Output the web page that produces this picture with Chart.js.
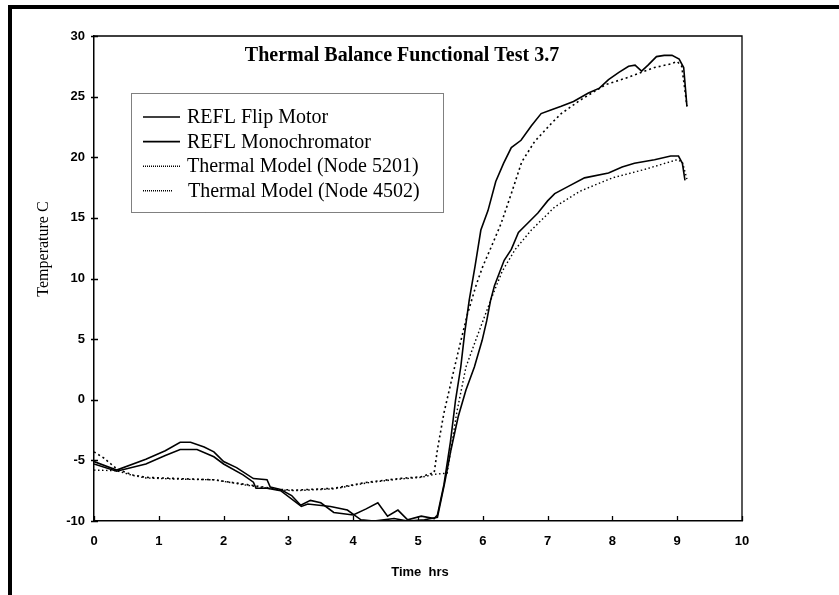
<!DOCTYPE html>
<html>
<head>
<meta charset="utf-8">
<title>Thermal Balance Functional Test 3.7</title>
<script src="https://cdn.jsdelivr.net/npm/chart.js@4/dist/chart.umd.min.js"></script>
<style>
  html, body { margin: 0; padding: 0; background: #fff; }
  #wrap { position: relative; width: 839px; height: 595px; overflow: hidden; }
  #frame { position: absolute; left: 8px; top: 5px; width: 840px; height: 600px;
           border-top: 4px solid #000; border-left: 4px solid #000; }
  #chart { position: absolute; left: 0; top: 0; }
</style>
</head>
<body>
<div id="wrap">
  <div id="frame"></div>
  <canvas id="chart" width="839" height="595"></canvas>
</div>
<script>
// values (time in hours, temperature in C)
const flipHrs = [0, 0.35, 0.8, 1.1, 1.33, 1.49, 1.7, 1.85, 2.0, 2.2, 2.46, 2.67, 2.72, 2.88, 3.05, 3.19, 3.34, 3.5, 3.7, 4.0, 4.2, 4.38, 4.53, 4.69, 4.84, 5.05, 5.25, 5.3, 5.4, 5.5, 5.58, 5.66, 5.72, 5.79, 5.88, 5.97, 6.08, 6.2, 6.32, 6.44, 6.59, 6.75, 6.9, 7.05, 7.21, 7.4, 7.63, 7.8, 7.94, 8.1, 8.25, 8.35, 8.45, 8.55, 8.68, 8.8, 8.92, 9.03, 9.1, 9.13, 9.15];
const flipTemp = [-5.1, -5.8, -4.9, -4.2, -3.5, -3.5, -3.9, -4.3, -5.1, -5.6, -6.5, -6.6, -7.2, -7.4, -7.9, -8.7, -8.3, -8.5, -9.3, -9.5, -9.0, -8.5, -9.6, -9.1, -9.9, -9.6, -9.8, -9.5, -7.0, -3.5, 0.0, 2.7, 5.5, 8.2, 11.0, 14.0, 15.6, 18.0, 19.5, 20.8, 21.4, 22.6, 23.6, 23.9, 24.2, 24.6, 25.3, 25.7, 26.4, 27.0, 27.5, 27.6, 27.1, 27.6, 28.3, 28.4, 28.4, 28.1, 27.4, 25.5, 24.2];

const monoHrs = [0, 0.35, 0.8, 1.1, 1.33, 1.59, 1.85, 2.0, 2.3, 2.46, 2.5, 2.67, 2.88, 3.2, 3.3, 3.65, 3.91, 4.12, 4.32, 4.63, 4.84, 5.1, 5.3, 5.41, 5.51, 5.62, 5.74, 5.87, 5.99, 6.06, 6.12, 6.18, 6.23, 6.33, 6.44, 6.55, 6.7, 6.85, 7.0, 7.11, 7.32, 7.57, 7.94, 8.15, 8.34, 8.65, 8.9, 9.02, 9.08, 9.12];
const monoTemp = [-5.3, -5.9, -5.3, -4.6, -4.1, -4.1, -4.7, -5.3, -6.2, -6.8, -7.3, -7.3, -7.5, -8.8, -8.6, -8.8, -9.1, -9.9, -10.0, -9.8, -10.0, -9.9, -9.7, -6.9, -4.1, -1.4, 0.8, 2.7, 4.9, 6.5, 8.2, 9.4, 10.1, 11.5, 12.4, 13.8, 14.6, 15.4, 16.4, 17.0, 17.6, 18.3, 18.7, 19.2, 19.5, 19.8, 20.1, 20.1, 19.5, 18.1];

const node5201Hrs = [0, 0.15, 0.35, 0.6, 0.8, 1.3, 1.85, 2.36, 2.88, 3.1, 3.7, 4.22, 4.7, 5.05, 5.25, 5.3, 5.4, 5.53, 5.64, 5.76, 5.9, 6.0, 6.13, 6.28, 6.44, 6.6, 6.8, 7.06, 7.21, 7.5, 7.9, 8.25, 8.65, 8.9, 9.0, 9.07, 9.12, 9.15];
const node5201Temp = [-4.3, -4.8, -5.7, -6.2, -6.4, -6.5, -6.6, -7.0, -7.4, -7.45, -7.3, -6.8, -6.5, -6.35, -6.0, -4.1, -1.1, 1.9, 4.4, 7.0, 9.5, 11.0, 12.6, 14.5, 17.0, 19.6, 21.3, 22.8, 23.6, 24.7, 26.0, 26.6, 27.4, 27.7, 27.9, 27.5, 25.5, 24.2];

const node4502Hrs = [0, 0.35, 0.6, 0.8, 1.3, 1.85, 2.36, 2.88, 3.1, 3.7, 4.22, 4.7, 5.05, 5.25, 5.45, 5.6, 5.74, 5.89, 6.03, 6.15, 6.3, 6.5, 6.75, 7.11, 7.5, 8.0, 8.5, 9.0, 9.08, 9.15];
const node4502Temp = [-5.8, -5.85, -6.25, -6.45, -6.55, -6.6, -7.05, -7.45, -7.5, -7.35, -6.85, -6.55, -6.4, -6.15, -6.05, -1.0, 2.7, 4.9, 6.9, 8.6, 10.6, 12.4, 14.0, 15.9, 17.2, 18.3, 19.0, 19.8, 19.6, 18.2];

const seriesNames = ["REFL Flip Motor", "REFL Monochromator", "Thermal Model (Node 5201)", "Thermal Model (Node 4502)"];
const xTicks = [0, 1, 2, 3, 4, 5, 6, 7, 8, 9, 10];
const yTicks = [-10, -5, 0, 5, 10, 15, 20, 25, 30];

const SERIF = '"Liberation Serif", "Times New Roman", serif';
const SANS = '"Liberation Sans", Arial, sans-serif';

function pts(xs, ys) {
  return xs.map((x, i) => ({ x: x, y: ys[i] }));
}

function line(label, xs, ys, dash, width) {
  return {
    label: label,
    data: pts(xs, ys),
    borderColor: '#000',
    borderWidth: width,
    borderDash: dash,
    pointRadius: 0,
    tension: 0,
    fill: false
  };
}

// frame, tick marks, titles and the dotted legend box
const decor = {
  id: 'decor',
  afterDraw(chart) {
    const ctx = chart.ctx;
    const ca = chart.chartArea;
    const xs = chart.scales.x, ys = chart.scales.y;
    ctx.save();
    ctx.strokeStyle = '#000';

    // top and right side of the plot frame
    ctx.lineWidth = 1.3;
    ctx.beginPath();
    ctx.moveTo(ca.left, ca.top);
    ctx.lineTo(ca.right, ca.top);
    ctx.lineTo(ca.right, ca.bottom);
    ctx.stroke();

    // tick marks: crossing on y, inward on x
    ctx.lineWidth = 1.3;
    ctx.beginPath();
    yTicks.forEach(v => {
      const py = Math.round(ys.getPixelForValue(v)) + 0.5;
      ctx.moveTo(ca.left - 3, py);
      ctx.lineTo(ca.left + 4, py);
    });
    xTicks.forEach(v => {
      const px = Math.round(xs.getPixelForValue(v)) + 0.5;
      ctx.moveTo(px, ca.bottom);
      ctx.lineTo(px, ca.bottom - 5);
    });
    ctx.stroke();

    // chart title
    ctx.fillStyle = '#000';
    ctx.font = 'bold 20px ' + SERIF;
    ctx.textAlign = 'center';
    ctx.textBaseline = 'alphabetic';
    ctx.fillText('Thermal Balance Functional Test 3.7', ca.left + 308, ca.top + 25);

    // axis titles
    ctx.font = 'bold 13px ' + SANS;
    ctx.textBaseline = 'middle';
    ctx.fillText('Time  hrs', (ca.left + ca.right) / 2 + 2, ca.bottom + 51);
    ctx.save();
    ctx.translate(44, 249);
    ctx.rotate(-Math.PI / 2);
    ctx.font = '16px ' + SERIF;
    ctx.fillText('Temperature C', 0, 0);
    ctx.restore();

    // legend
    const lx = ca.left + 37, ly = ca.top + 57, lw = 312, lh = 119;
    ctx.fillStyle = '#fff';
    ctx.fillRect(lx, ly, lw, lh);
    ctx.lineWidth = 1;
    ctx.setLineDash([1, 1]);
    ctx.strokeRect(lx + 0.5, ly + 0.5, lw, lh);
    ctx.fillStyle = '#000';
    ctx.font = '20px ' + SERIF;
    ctx.textAlign = 'left';
    ctx.textBaseline = 'middle';
    chart.data.datasets.forEach((ds, i) => {
      const ry = ly + 24 + i * 24.6;
      ctx.lineWidth = ds.borderWidth;
      ctx.setLineDash(i < 2 ? [] : [1, 1]);
      ctx.beginPath();
      ctx.moveTo(lx + 12, ry);
      ctx.lineTo(lx + (i === 3 ? 41 : 49), ry);
      ctx.stroke();
      ctx.fillText(ds.label, lx + (i === 3 ? 57 : 56), ry + 1);
    });
    ctx.restore();
  }
};

new Chart(document.getElementById('chart'), {
  type: 'line',
  data: {
    datasets: [
      line(seriesNames[0], flipHrs, flipTemp, [], 1.6),
      line(seriesNames[1], monoHrs, monoTemp, [], 1.6),
      line(seriesNames[2], node5201Hrs, node5201Temp, [2, 3], 1.6),
      line(seriesNames[3], node4502Hrs, node4502Temp, [1.5, 2.5], 1.4)
    ]
  },
  options: {
    responsive: false,
    animation: false,
    devicePixelRatio: 1,
    layout: { padding: { left: 0, top: 36, right: 97, bottom: 0 } },
    plugins: {
      legend: { display: false },
      title: { display: false },
      tooltip: { enabled: false }
    },
    scales: {
      x: {
        type: 'linear',
        min: 0,
        max: 10,
        afterFit: s => { s.height = 74; },
        afterBuildTicks: s => { s.ticks = xTicks.map(v => ({ value: v })); },
        ticks: { color: '#000', padding: 13, font: { family: SANS, size: 13, weight: 'bold' } },
        grid: { drawOnChartArea: false, drawTicks: false },
        border: { color: '#000', width: 1.5 }
      },
      y: {
        min: -10,
        max: 30,
        afterFit: s => { s.width = 94; },
        afterBuildTicks: s => { s.ticks = yTicks.map(v => ({ value: v })); },
        ticks: { color: '#000', padding: 9, font: { family: SANS, size: 13, weight: 'bold' } },
        grid: { drawOnChartArea: false, drawTicks: false },
        border: { color: '#000', width: 1.5 }
      }
    }
  },
  plugins: [decor]
});
</script>
</body>
</html>
